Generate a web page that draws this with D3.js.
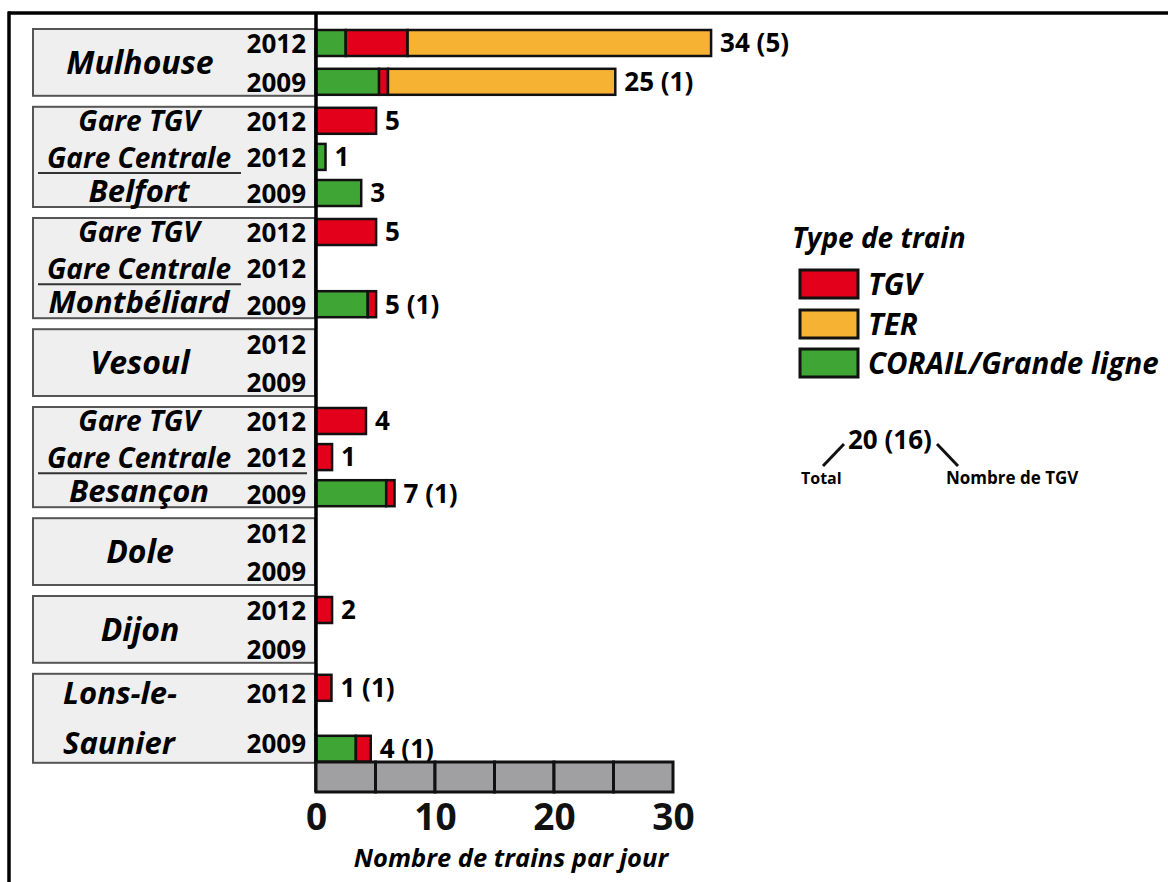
<!DOCTYPE html>
<html><head><meta charset="utf-8">
<script src="https://cdn.jsdelivr.net/npm/d3@7"></script>
<style>
html,body{margin:0;padding:0;background:#fff;}
svg{display:block;font-family:"Open Sans","DejaVu Sans",sans-serif;}
</style></head>
<body>
<svg id="chart" width="1168" height="882"></svg>
<script>
// ---- data ----
const groupNames = ["Mulhouse","Belfort","Montbéliard","Vesoul","Besançon","Dole","Dijon","Lons-le-Saunier"];
const groupLines = [["Mulhouse"],["Gare TGV","Gare Centrale","Belfort"],["Gare TGV","Gare Centrale","Montbéliard"],["Vesoul"],["Gare TGV","Gare Centrale","Besançon"],["Dole"],["Dijon"],["Lons-le-","Saunier"]];
const groupRows = [2,3,3,2,3,2,2,2];
const years   = ["2012","2009","2012","2012","2009","2012","2012","2009","2012","2009","2012","2012","2009","2012","2009","2012","2009","2012","2009"];
const corail  = [2.5,5.3,0,0.8,3.8,0,0,4.35,0,0,0,0,5.9,0,0,0,0,0,3.35];
const tgv     = [5.2,0.75,5.05,0,0,5.05,0,0.7,0,0,4.2,1.35,0.7,0,0,1.35,0,1.3,1.25];
const ter     = [25.5,19.1,0,0,0,0,0,0,0,0,0,0,0,0,0,0,0,0,0];
const totals  = ["34 (5)","25 (1)","5","1","3","5","","5 (1)","","","4","1","7 (1)","","","2","","1 (1)","4 (1)"];
const xTicks  = [0,10,20,30];
const legendKeys = ["tgv","ter","corail"];
const legendLabels = ["TGV","TER","CORAIL/Grande ligne"];

(function(){
const colors = {corail:"#3fa535", tgv:"#e2001a", ter:"#f6b233"};
const svg = d3.select("#chart");

const x = d3.scaleLinear().domain([0,30]).range([316,673]);

// group layout
const pitch = 33.4, gap = 11, barH = 28;
let curTop = 29, rowIdx = 0;
const groups = groupNames.map((n,i)=>{
  const h = (i===7) ? 89 : groupRows[i]*pitch;
  const g = {name:n, lines:groupLines[i], top:curTop, bottom:curTop+h, rows:d3.range(rowIdx,rowIdx+groupRows[i])};
  curTop += h + gap; rowIdx += groupRows[i];
  return g;
});
const rowY = [];     // bar top
const textY = [];    // label centre
groups.forEach(g=>{
  const sp = d3.scalePoint().domain(g.rows).range([g.top, g.bottom-barH]);
  g.rows.forEach(r=>{ rowY[r] = sp(r); textY[r] = sp(r)+barH/2+1; });
  if (g.name==="Lons-le-Saunier") {
    const c = (g.top+g.bottom)/2;
    textY[g.rows[0]] = c-25; textY[g.rows[1]] = c+25;
  }
});

const table = years.map((y,i)=>({i, year:y, corail:corail[i], tgv:tgv[i], ter:ter[i], label:totals[i]}));
const stack = d3.stack().keys(["corail","tgv","ter"])(table);

// frame
svg.append("line").attr("x1",8).attr("x2",1168).attr("y1",13).attr("y2",13).attr("stroke","#000").attr("stroke-width",3.5);
svg.append("line").attr("x1",9).attr("x2",9).attr("y1",11.5).attr("y2",882).attr("stroke","#000").attr("stroke-width",3.5);

// group boxes
const gb = svg.append("g");
groups.forEach(g=>{
  gb.append("rect").attr("x",33).attr("y",g.top).attr("width",282).attr("height",g.bottom-g.top)
    .attr("fill","#efefef").attr("stroke","#555").attr("stroke-width",2);
  const cy = (g.top+g.bottom)/2;
  if (g.lines.length===1) {
    gb.append("text").attr("x",140).attr("y",cy).attr("dy","0.36em").attr("text-anchor","middle")
      .attr("font-size",32).attr("font-weight","bold").attr("font-style","italic").text(g.lines[0]);
  } else if (g.lines.length===2) {
    g.lines.forEach((t,k)=>{
      gb.append("text").attr("x",63).attr("y",textY[g.rows[k]]).attr("dy","0.36em")
        .attr("font-size",31).attr("font-weight","bold").attr("font-style","italic").text(t);
    });
  } else {
    const off = [0,1,-2];
    g.lines.forEach((t,k)=>{
      gb.append("text").attr("x",139).attr("y",rowY[g.rows[k]]+barH/2+off[k]).attr("dy","0.36em").attr("text-anchor","middle")
        .attr("font-size",k<2?28:31).attr("font-weight","bold").attr("font-style","italic").text(t);
    });
    const ly = (rowY[g.rows[1]]+rowY[g.rows[2]])/2 + barH/2 - 2;
    gb.append("line").attr("x1",38).attr("x2",g.name==="Besançon"?307:241).attr("y1",ly).attr("y2",ly)
      .attr("stroke","#333").attr("stroke-width",2);
  }
});

// year labels
svg.append("g").selectAll("text").data(table).join("text")
  .attr("x",306).attr("y",d=>textY[d.i]).attr("dy","0.36em").attr("text-anchor","end")
  .attr("font-size",26).attr("font-weight","bold").text(d=>d.year);

// bars
const barsG = svg.append("g");
stack.forEach(s=>{
  barsG.append("g").selectAll("rect").data(s.filter(d=>d[1]-d[0]>0)).join("rect")
    .attr("x",d=>x(d[0])).attr("width",d=>x(d[1])-x(d[0]))
    .attr("y",d=>rowY[d.data.i]+1).attr("height",barH-2)
    .attr("fill",colors[s.key]).attr("stroke","#111").attr("stroke-width",2.5);
});

// total labels
svg.append("g").selectAll("text").data(table.filter(d=>d.label)).join("text")
  .attr("x",d=>x(d.corail+d.tgv+d.ter)+9).attr("y",d=>rowY[d.i]+barH/2).attr("dy","0.36em")
  .attr("font-size",26).attr("font-weight","bold").text(d=>d.label);

// axis line
svg.append("line").attr("x1",316).attr("x2",316).attr("y1",12).attr("y2",792).attr("stroke","#000").attr("stroke-width",3.5);

// gray scale bar
svg.append("g").selectAll("rect").data(d3.range(0,30,5)).join("rect")
  .attr("x",d=>x(d)).attr("width",x(5)-x(0)).attr("y",762).attr("height",30)
  .attr("fill","#a0a0a2").attr("stroke","#111").attr("stroke-width",3);

// axis ticks
const ax = svg.append("g").attr("transform","translate(0,792)")
  .call(d3.axisBottom(x).tickValues(xTicks).tickSize(0).tickFormat(d3.format("d")));
ax.select(".domain").remove();
ax.selectAll("text").attr("y",38).attr("dy",null).attr("font-size",37).attr("font-weight","bold")
  .attr("font-family","'Open Sans',sans-serif").attr("fill","#111");

svg.append("text").attr("x",511).attr("y",867).attr("text-anchor","middle")
  .attr("font-size",25.5).attr("font-weight","bold").attr("font-style","italic").text("Nombre de trains par jour");

// legend
const lg = svg.append("g");
lg.append("text").attr("x",792).attr("y",248).attr("font-size",28).attr("font-weight","bold").attr("font-style","italic").text("Type de train");
const ly0 = [270,310,349];
legendKeys.forEach((k,i)=>{
  lg.append("rect").attr("x",800).attr("y",ly0[i]).attr("width",58).attr("height",28)
    .attr("fill",colors[k]).attr("stroke","#111").attr("stroke-width",3);
  lg.append("text").attr("x",868).attr("y",ly0[i]+14).attr("dy","0.36em")
    .attr("font-size",29.5).attr("font-weight","bold").attr("font-style","italic").text(legendLabels[i]);
});

// annotation
const an = svg.append("g");
an.append("text").attr("x",848).attr("y",449).attr("font-size",26).attr("font-weight","bold").text("20 (16)");
an.append("line").attr("x1",823).attr("y1",466).attr("x2",844).attr("y2",444).attr("stroke","#111").attr("stroke-width",3);
an.append("line").attr("x1",937).attr("y1",444).attr("x2",958).attr("y2",466).attr("stroke","#111").attr("stroke-width",3);
an.append("text").attr("x",801).attr("y",484).attr("font-size",16).attr("font-weight","bold").text("Total");
an.append("text").attr("x",946).attr("y",484).attr("font-size",17).attr("font-weight","bold").text("Nombre de TGV");
})();
</script>
</body></html>
